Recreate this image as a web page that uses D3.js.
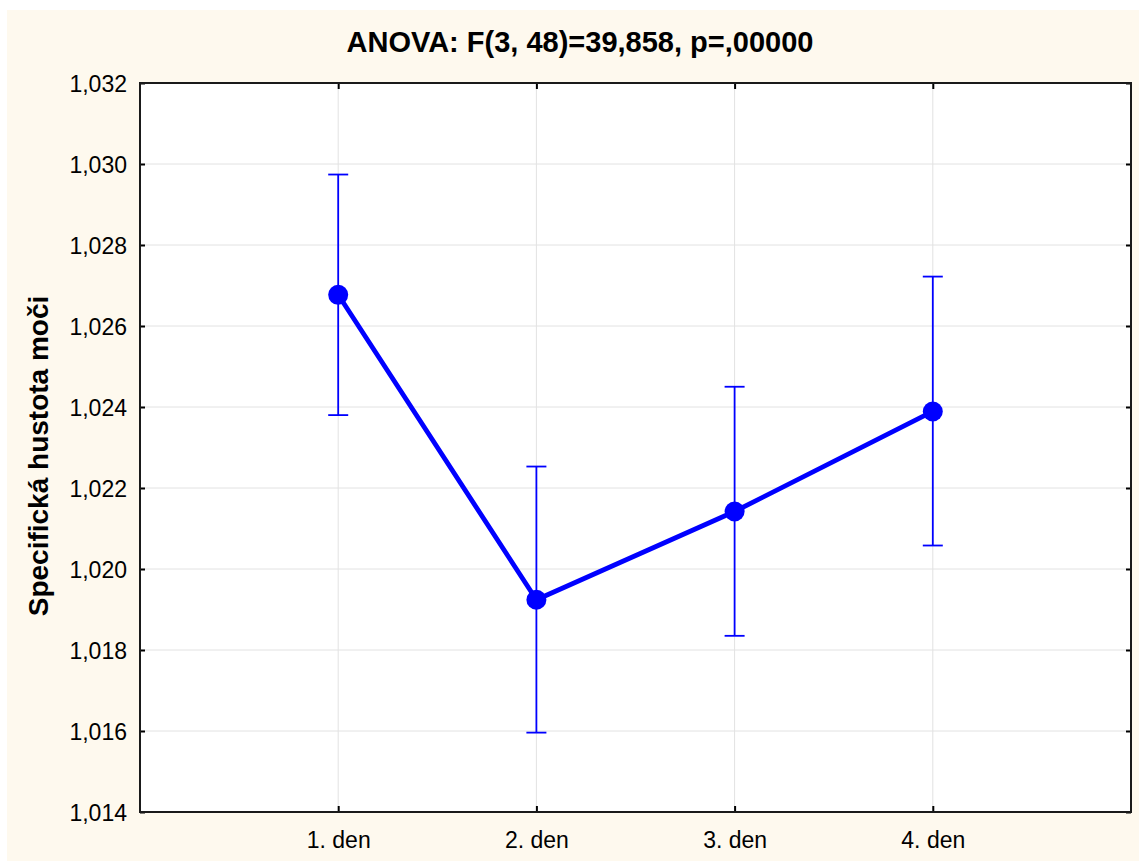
<!DOCTYPE html>
<html>
<head>
<meta charset="utf-8">
<script src="https://cdn.jsdelivr.net/npm/d3@7"></script>
<style>
  html, body { margin: 0; padding: 0; background: #ffffff; }
  svg { display: block; }
  text { font-family: "Liberation Sans", Arial, sans-serif; fill: #000; }
</style>
</head>
<body>
<svg id="chart" width="1139" height="861"></svg>
<script>
// ---- data ----
const categories = ["1. den", "2. den", "3. den", "4. den"];
const means      = [1.02677, 1.01924, 1.02142, 1.02389];
const upper      = [1.02974, 1.02253, 1.02450, 1.02722];
const lower      = [1.02380, 1.01596, 1.01835, 1.02058];
const yTicks     = [1.014, 1.016, 1.018, 1.020, 1.022, 1.024, 1.026, 1.028, 1.030, 1.032];
const titleText  = "ANOVA: F(3, 48)=39,858, p=,00000";
const yLabel     = "Specifická hustota moči";

// ---- layout ----
const W = 1139, H = 861;
const plot = { left: 140, right: 1131, top: 83, bottom: 812 };
const svg = d3.select("#chart");

const locale = d3.formatLocale({ decimal: ",", thousands: " ", grouping: [3], currency: ["", ""] });
const fmt = locale.format(".3f");

// background
svg.append("rect").attr("x", 7).attr("y", 10).attr("width", W - 7).attr("height", H - 10)
  .attr("fill", "#fef9ee");
svg.append("rect").attr("x", plot.left).attr("y", plot.top)
  .attr("width", plot.right - plot.left).attr("height", plot.bottom - plot.top)
  .attr("fill", "#ffffff");

// scales
const x = d3.scaleLinear().domain([0, categories.length + 1]).range([plot.left, plot.right]);
const y = d3.scaleLinear().domain([1.014, 1.032]).range([plot.bottom, plot.top]);
const xPos = i => x(i + 1);

// grid
const grid = svg.append("g");
grid.selectAll("line.h").data(yTicks.slice(1, -1)).enter().append("line")
  .attr("x1", plot.left).attr("x2", plot.right)
  .attr("y1", d => y(d)).attr("y2", d => y(d))
  .attr("stroke", "#e2e2e2").attr("stroke-width", 1);
grid.selectAll("line.v").data(categories).enter().append("line")
  .attr("x1", (d, i) => xPos(i)).attr("x2", (d, i) => xPos(i))
  .attr("y1", plot.top).attr("y2", plot.bottom)
  .attr("stroke", "#e2e2e2").attr("stroke-width", 1);

// axes (ticks inward)
const xTickScale = d3.scalePoint().domain(categories)
  .range([xPos(0), xPos(categories.length - 1)]);

const yAxisL = d3.axisLeft(y).tickValues(yTicks).tickSize(-5).tickPadding(13).tickFormat(fmt);
const gL = svg.append("g").attr("transform", `translate(${plot.left},0)`).call(yAxisL);
gL.selectAll("text").style("font-size", "23px").attr("dy", "0.36em");

const yAxisR = d3.axisRight(y).tickValues(yTicks).tickSize(-5).tickFormat("");
svg.append("g").attr("transform", `translate(${plot.right},0)`).call(yAxisR);

const xAxisB = d3.axisBottom(xTickScale).tickSize(-6).tickPadding(20);
const gB = svg.append("g").attr("transform", `translate(0,${plot.bottom})`).call(xAxisB);
gB.selectAll("text").style("font-size", "23px").attr("dy", "0.71em");

const xAxisT = d3.axisTop(xTickScale).tickSize(-6).tickFormat("");
svg.append("g").attr("transform", `translate(0,${plot.top})`).call(xAxisT);

svg.selectAll(".domain").remove();
svg.selectAll(".tick line").attr("stroke", "#000").attr("stroke-width", 2);

// frame
svg.append("rect").attr("x", plot.left).attr("y", plot.top)
  .attr("width", plot.right - plot.left).attr("height", plot.bottom - plot.top)
  .attr("fill", "none").attr("stroke", "#1a1a1a").attr("stroke-width", 2);

// error bars
const eb = svg.append("g").attr("stroke", "#0000ff").attr("stroke-width", 1.8);
categories.forEach((c, i) => {
  const cx = xPos(i);
  eb.append("line").attr("x1", cx).attr("x2", cx).attr("y1", y(upper[i])).attr("y2", y(lower[i]));
  eb.append("line").attr("x1", cx - 10).attr("x2", cx + 10).attr("y1", y(upper[i])).attr("y2", y(upper[i]));
  eb.append("line").attr("x1", cx - 10).attr("x2", cx + 10).attr("y1", y(lower[i])).attr("y2", y(lower[i]));
});

// mean line
const line = d3.line().x((d, i) => xPos(i)).y(d => y(d));
svg.append("path").datum(means).attr("d", line)
  .attr("fill", "none").attr("stroke", "#0000ff").attr("stroke-width", 4.8)
  .attr("stroke-linejoin", "round");

// markers
svg.selectAll("circle.m").data(means).enter().append("circle")
  .attr("cx", (d, i) => xPos(i)).attr("cy", d => y(d)).attr("r", 10)
  .attr("fill", "#0000ff");

// title
svg.append("text").attr("x", 580).attr("y", 52).attr("text-anchor", "middle")
  .style("font-size", "29px").style("font-weight", "bold").text(titleText);

// y label
svg.append("text").attr("transform", `translate(48,456) rotate(-90)`)
  .attr("text-anchor", "middle")
  .style("font-size", "28px").style("font-weight", "bold").text(yLabel);
</script>
</body>
</html>
